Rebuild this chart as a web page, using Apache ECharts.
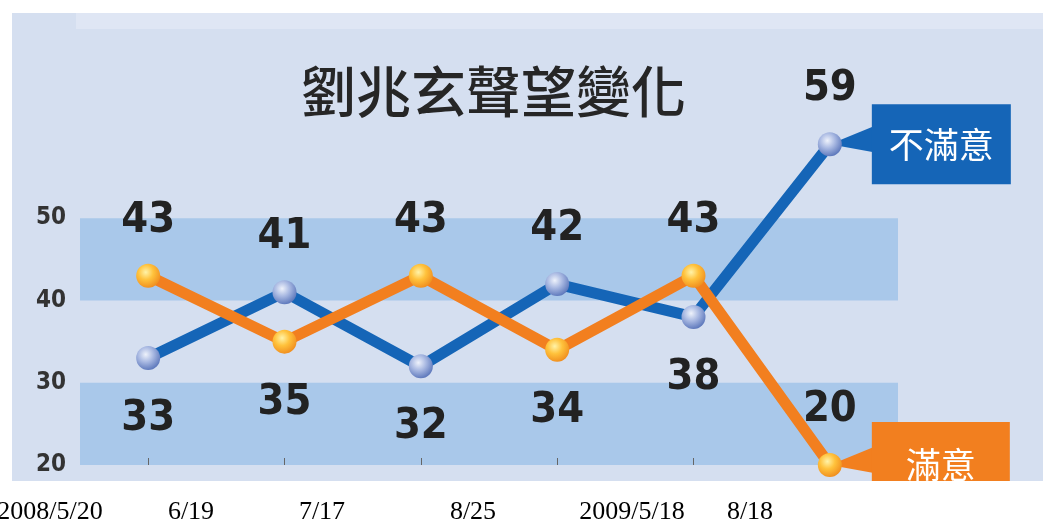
<!DOCTYPE html>
<html>
<head>
<meta charset="utf-8">
<script src="https://cdn.jsdelivr.net/npm/echarts@6/dist/echarts.min.js"></script>
<style>
  html, body { margin: 0; padding: 0; background: #ffffff; }
  #chart { width: 1043px; height: 525px; }
</style>
</head>
<body>
<div id="chart"></div>
<script>
// Survey dates and approval figures (%)
const categories = ['2008/5/20', '6/19', '7/17', '8/25', '2009/5/18', '8/18'];
const dissatisfied = [33, 41, 32, 42, 38, 59];   // 不滿意
const satisfied = [43, 35, 43, 34, 43, 20];      // 滿意
const yTicks = [20, 30, 40, 50];

// Which side of each point its value label sits on
const dissatisfiedSides = ['bottom', 'top', 'bottom', 'top', 'bottom', 'top'];
const satisfiedSides = ['top', 'bottom', 'top', 'bottom', 'top', 'top'];

// Horizontal centres of the date captions under the panel
const dateCaptionX = [50, 191, 322, 473, 632, 750];

const BLUE = '#1565b7';
const ORANGE = '#f27f1f';
const NARROW = '"DejaVu Sans Condensed", "Liberation Sans Narrow", "Arial Narrow", Roboto, sans-serif';

const chart = echarts.init(document.getElementById('chart'), null, { renderer: 'canvas' });

function sphere(light, mid, dark) {
  return {
    type: 'radial', x: 0.4, y: 0.35, r: 0.7,
    colorStops: [
      { offset: 0, color: light },
      { offset: 0.45, color: mid },
      { offset: 1, color: dark }
    ]
  };
}

const valueLabel = {
  show: true,
  distance: 20,
  fontFamily: NARROW,
  fontWeight: 'bold',
  fontSize: 43,
  lineHeight: 46,
  color: '#222222'
};

// Labels under a point sit a little further away than those above it
function pointItem(v, side) {
  return { value: v, label: { position: side, distance: side === 'bottom' ? 26 : 20 } };
}

function baseGraphics() {
  const els = [
    { id: 'panel', type: 'rect', z: -10, silent: true,
      shape: { x: 12, y: 13, width: 1031, height: 468 },
      style: { fill: '#d5dff0' } },
    { id: 'strip', type: 'rect', z: -9, silent: true,
      shape: { x: 76, y: 13, width: 967, height: 16 },
      style: { fill: '#dfe6f4' } },
    { id: 'cover', type: 'rect', z: 50, silent: true,
      shape: { x: 0, y: 481, width: 1043, height: 44 },
      style: { fill: '#ffffff' } }
  ];
  categories.forEach((c, i) => {
    els.push({
      id: 'date' + i, type: 'text', z: 51, silent: true,
      x: dateCaptionX[i], y: 512,
      style: {
        text: c, fill: '#000000',
        font: '26px "Liberation Serif", "Times New Roman", serif',
        textAlign: 'center', textVerticalAlign: 'middle'
      }
    });
  });
  return els;
}

const option = {
  animation: false,
  backgroundColor: 'transparent',
  title: {
    text: '劉兆玄聲望變化',
    left: 296,
    top: 59,
    textStyle: {
      fontFamily: 'Noto Sans CJK TC',
      fontWeight: 500,
      fontSize: 55,
      color: '#262626'
    }
  },
  grid: { left: 80, right: 145, top: 136, bottom: 60 },
  xAxis: {
    type: 'category',
    data: categories,
    boundaryGap: true,
    axisLine: { show: false },
    axisTick: { show: true, alignWithLabel: true, inside: true, length: 7,
                lineStyle: { color: '#666666', width: 1 } },
    axisLabel: { show: false },
    splitLine: { show: false }
  },
  yAxis: {
    type: 'value',
    min: 20, max: 60, interval: 10,
    axisLine: { show: false },
    axisTick: { show: false },
    splitLine: { show: false },
    splitArea: { show: true, areaStyle: { color: ['#a9c8ea', 'rgba(0,0,0,0)'] } },
    axisLabel: {
      margin: 14,
      fontFamily: NARROW,
      fontWeight: 'bold',
      fontSize: 24,
      color: '#333333',
      formatter: v => yTicks.includes(v) ? String(v) : ''
    }
  },
  series: [
    {
      name: '不滿意',
      type: 'line',
      data: dissatisfied.map((v, i) => pointItem(v, dissatisfiedSides[i])),
      symbol: 'circle',
      symbolSize: 24,
      lineStyle: { color: BLUE, width: 11 },
      itemStyle: { color: sphere('#eef2fb', '#a9b9e2', '#5672b8') },
      label: valueLabel,
      endLabel: {
        show: true,
        formatter: '{a}',
        distance: 42,
        color: '#ffffff',
        fontFamily: 'Noto Sans CJK TC',
        fontSize: 35,
        lineHeight: 40,
        backgroundColor: BLUE,
        padding: [20, 17]
      },
      z: 3
    },
    {
      name: '滿意',
      type: 'line',
      data: satisfied.map((v, i) => pointItem(v, satisfiedSides[i])),
      symbol: 'circle',
      symbolSize: 24,
      lineStyle: { color: ORANGE, width: 11 },
      itemStyle: { color: sphere('#fff3a8', '#ffc23c', '#ef8a1c') },
      label: valueLabel,
      endLabel: {
        show: true,
        formatter: '{a}',
        distance: 42,
        color: '#ffffff',
        fontFamily: 'Noto Sans CJK TC',
        fontSize: 35,
        lineHeight: 40,
        backgroundColor: ORANGE,
        padding: [23, 34]
      },
      z: 4
    }
  ],
  graphic: { elements: baseGraphics() }
};

chart.setOption(option);

// Pointer wedges joining each line's last point to its name box
const last = categories.length - 1;
const pBlue = chart.convertToPixel({ seriesIndex: 0 }, [last, dissatisfied[last]]);
const pOrange = chart.convertToPixel({ seriesIndex: 1 }, [last, satisfied[last]]);
function wedge(id, p, color) {
  return {
    id, type: 'polygon', z: 1, silent: true,
    shape: { points: [[p[0], p[1]], [p[0] + 44, p[1] - 18], [p[0] + 44, p[1] + 8]] },
    style: { fill: color }
  };
}
const els = baseGraphics();
els.push(wedge('wedgeBlue', pBlue, BLUE), wedge('wedgeOrange', pOrange, ORANGE));
chart.setOption({ graphic: { elements: els } });
</script>
</body>
</html>
